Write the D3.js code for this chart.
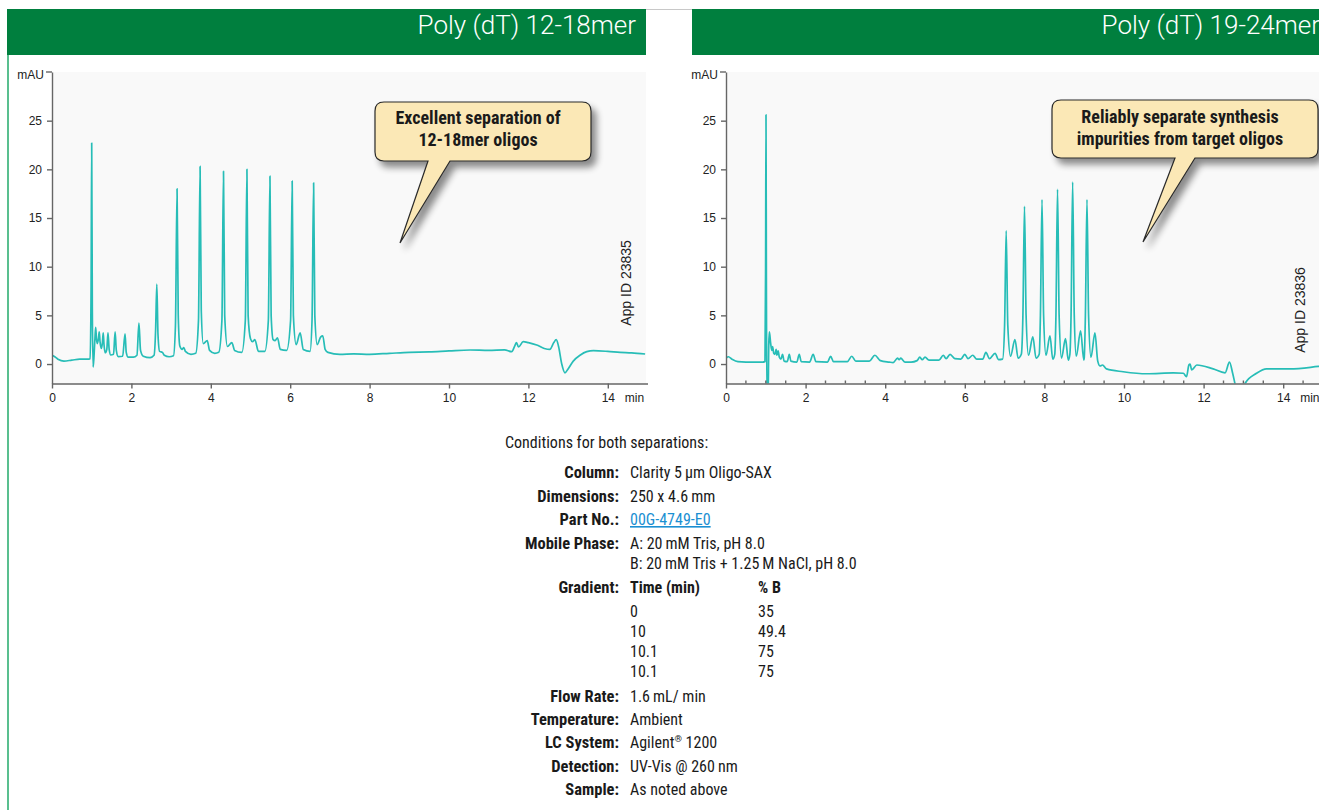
<!DOCTYPE html>
<html><head><meta charset="utf-8">
<script src="https://cdn.jsdelivr.net/npm/d3@7"></script>
<style>
html,body{margin:0;padding:0;background:#fff;}
svg{display:block;}
</style></head>
<body><svg id="c" width="1319" height="810"></svg>
<script>
// ---------------- DATA ----------------
const panelTitles = ["Poly (dT) 12-18mer", "Poly (dT) 19-24mer"];
const xTicks = [0, 2, 4, 6, 8, 10, 12, 14];
const yTicks = [0, 5, 10, 15, 20, 25];
const xUnit = "min";
const yUnit = "mAU";
const appIds = ["App ID 23835", "App ID 23836"];
const calloutLines = [
  ["Excellent separation of", "12-18mer oligos"],
  ["Reliably separate synthesis", "impurities from target oligos"]
];

// chromatogram 1 (time min, mAU)
const trace12to18 = [
 [0.00,0.9],[0.05,0.8],[0.15,0.5],[0.3,0.3],[0.5,0.4],[0.7,0.5],[0.9,0.5],[0.96,0.55],
 [0.985,8],[1.0,22.7],[1.015,6],[1.035,-0.3],[1.055,0.6],
 [1.08,2.5],[1.10,3.77],[1.12,2.6],[1.14,2.1],[1.17,2.6],[1.19,3.3],[1.21,2.3],[1.24,1.6],[1.27,2.2],[1.29,3.2],[1.31,2.0],[1.34,1.16],[1.38,1.5],[1.41,3.2],[1.44,1.5],[1.48,0.93],[1.55,1.0],[1.59,3.3],[1.62,1.4],[1.67,0.76],[1.78,0.8],[1.84,3.1],[1.87,1.2],[1.92,0.7],[2.05,0.7],[2.14,0.9],[2.19,4.2],[2.23,1.4],[2.3,0.8],[2.47,0.65],[2.57,0.9],[2.61,3.5],[2.64,8.2],[2.67,3.0],[2.71,1.3],[2.78,1.2],[2.83,0.9],[2.95,0.75],[3.06,0.85],[3.11,4],[3.15,18.0],[3.18,5],[3.22,1.85],[3.28,1.5],[3.32,1.7],[3.36,1.3],[3.5,1.0],[3.62,1.1],[3.69,4.5],[3.73,20.3],[3.76,5.5],[3.81,2.1],[3.91,2.4],[3.97,1.4],[4.1,1.1],[4.2,1.2],[4.28,4.5],[4.32,19.8],[4.35,5],[4.42,1.8],[4.53,2.2],[4.6,1.4],[4.78,1.2],[4.87,4.5],[4.91,20.0],[4.94,5],[5.0,2.6],[5.05,2.3],[5.11,2.5],[5.2,1.3],[5.36,1.3],[5.45,4.5],[5.49,19.3],[5.52,5],[5.57,2.5],[5.62,2.4],[5.68,2.7],[5.75,1.5],[5.91,1.4],[6.01,4.5],[6.05,18.8],[6.08,5],[6.15,2.0],[6.25,3.2],[6.33,1.5],[6.5,1.3],[6.55,4.5],[6.59,18.6],[6.62,5],[6.68,2.0],[6.77,2.8],[6.82,2.9],[6.88,1.5],[6.95,1.2],[7.25,1.0],[7.6,1.05],[8.0,1.0],[8.5,1.1],[9.0,1.2],[9.5,1.25],[10.0,1.35],[10.53,1.44],[11.0,1.4],[11.4,1.45],[11.58,1.27],[11.66,1.9],[11.70,2.2],[11.75,1.75],[11.87,2.3],[12.0,2.2],[12.21,1.95],[12.4,1.6],[12.54,1.5],[12.64,2.2],[12.70,2.5],[12.76,1.8],[12.84,0.0],[12.92,-0.9],[13.0,-0.5],[13.13,0.3],[13.3,0.9],[13.47,1.27],[13.64,1.37],[14.0,1.3],[14.31,1.2],[14.6,1.15],[14.94,1.03]
];

// chromatogram 2 (time min, mAU)
const trace19to24 = [
 [0.0,0.58],[0.06,0.75],[0.15,0.5],[0.3,0.24],[0.5,0.2],[0.7,0.2],[0.9,0.2],[0.98,0.25],[0.995,10],[1.005,25.6],[1.015,8],[1.03,-4],[1.055,-4],[1.075,2],[1.09,3.3],[1.12,2.2],[1.15,1.4],[1.17,1.8],[1.2,1.1],[1.23,1.0],[1.26,1.5],[1.28,0.9],[1.31,1.35],[1.34,0.7],[1.38,0.5],[1.42,1.0],[1.46,0.3],[1.54,0.25],[1.59,1.0],[1.63,0.3],[1.78,0.2],[1.84,1.0],[1.89,0.25],[2.1,0.2],[2.19,1.0],[2.26,0.25],[2.55,0.2],[2.63,0.8],[2.7,0.25],[3.05,0.25],[3.16,0.8],[3.26,0.3],[3.6,0.3],[3.74,0.9],[3.88,0.35],[4.1,0.2],[4.2,0.15],[4.31,0.6],[4.35,0.45],[4.39,0.6],[4.5,0.2],[4.65,0.2],[4.8,0.35],[4.87,0.7],[4.93,0.45],[5.0,0.7],[5.1,0.4],[5.35,0.4],[5.46,0.9],[5.53,0.55],[5.63,1.0],[5.75,0.55],[5.9,0.5],[6.0,1.0],[6.08,0.55],[6.2,0.9],[6.3,0.5],[6.45,0.5],[6.53,1.2],[6.62,0.55],[6.76,1.1],[6.85,0.45],[6.95,0.5],[7.0,4],[7.04,13.7],[7.08,4],[7.15,0.8],[7.26,2.5],[7.34,0.6],[7.42,1.0],[7.46,5],[7.50,16.2],[7.54,5],[7.6,0.9],[7.71,2.8],[7.79,0.6],[7.87,1.0],[7.90,5],[7.94,16.9],[7.98,5],[8.04,0.9],[8.14,2.9],[8.21,0.5],[8.26,1.0],[8.29,5],[8.33,17.95],[8.37,5],[8.43,0.6],[8.53,2.6],[8.6,0.4],[8.64,1.0],[8.67,5],[8.71,18.7],[8.75,5],[8.8,0.8],[8.91,3.4],[8.99,0.4],[9.0,0.6],[9.03,5],[9.07,16.9],[9.11,5],[9.17,0.7],[9.27,3.2],[9.34,0.3],[9.40,-0.2],[9.46,-0.1],[9.56,-0.5],[9.98,-0.79],[10.57,-1.0],[11.24,-0.9],[11.49,-0.95],[11.57,-1.3],[11.63,-0.1],[11.66,0.0],[11.70,-0.6],[11.83,-0.1],[12.24,-0.5],[12.54,-0.9],[12.65,0.2],[12.73,-0.95],[12.81,-2.4],[12.9,-3.5],[12.98,-2.6],[13.04,-2.0],[13.33,-0.95],[13.58,-0.5],[14.17,-0.5],[14.88,-0.25],[15.0,-0.2]
];

const conditionsHeading = "Conditions for both separations:";
const conditionLabels = ["Column:", "Dimensions:", "Part No.:", "Mobile Phase:", "", "Gradient:", "", "", "", "", "Flow Rate:", "Temperature:", "LC System:", "Detection:", "Sample:"];
const conditionValues = ["Clarity 5\u2009\u00b5m Oligo-SAX", "250 x 4.6\u2009mm", "00G-4749-E0", "A: 20\u2009mM Tris, pH 8.0", "B: 20\u2009mM Tris + 1.25\u2009M NaCl, pH 8.0", "Time (min)", "0", "10", "10.1", "10.1", "1.6\u2009mL/ min", "Ambient", "Agilent\u00ae 1200", "UV-Vis @ 260\u2009nm", "As noted above"];
const gradientPercentB = ["% B", "35", "49.4", "75", "75"];

// ---------------- LAYOUT ----------------
const GREEN = "#007f3e";
const TEAL = "#27bdb7";
const NARROW = "'Liberation Sans Narrow','Arial Narrow','Roboto Condensed','DejaVu Sans Condensed',sans-serif";
const SANS = "'Liberation Sans',Arial,Helvetica,sans-serif";
const yDomain = [-2, 30];
const yRange = [383.5, 72];
const panels = [
  {xr: [52, 647.5], bgRight: 646, header: [7, 646], titleX: 636,
   callout: {x0: 375, y0: 102, x1: 591, y1: 161, ta: 428, tb: 450, tx: 400, ty: 243, cx: 478, ty0: 124},
   appX: 631, appY: 283, minor: false, trace: trace12to18},
  {xr: [726, 1323], bgRight: 1319, header: [692, 1340], titleX: 1320,
   callout: {x0: 1052, y0: 100, x1: 1318, y1: 158, ta: 1175, tb: 1195, tx: 1143, ty: 242, cx: 1180, ty0: 123},
   appX: 1305, appY: 310, minor: true, trace: trace19to24}
];
const rowY = [478, 502, 525, 549, 569, 593, 617, 637, 657, 677, 702, 725, 748, 772, 795];

const svg = d3.select("#c");
const defs = svg.append("defs");
const f = defs.append("filter").attr("id", "shadow").attr("x", "-20%").attr("y", "-20%").attr("width", "150%").attr("height", "160%");
f.append("feGaussianBlur").attr("in", "SourceAlpha").attr("stdDeviation", 3.5).attr("result", "b");
f.append("feOffset").attr("in", "b").attr("dx", 5).attr("dy", 6).attr("result", "o");
f.append("feComponentTransfer").attr("in", "o").attr("result", "s")
  .append("feFuncA").attr("type", "linear").attr("slope", 0.45);
const m = f.append("feMerge");
m.append("feMergeNode").attr("in", "s");
m.append("feMergeNode").attr("in", "SourceGraphic");

// page frame
svg.append("line").attr("x1", 8).attr("x2", 8).attr("y1", 9).attr("y2", 810)
  .attr("stroke", "#22aa6a").attr("stroke-width", 1.5);
svg.append("line").attr("x1", 646).attr("x2", 692).attr("y1", 9.5).attr("y2", 9.5)
  .attr("stroke", "#c8c8c8").attr("stroke-width", 1);

panels.forEach((p, i) => {
  const g = svg.append("g");
  // header
  g.append("rect").attr("x", p.header[0]).attr("y", 9).attr("width", p.header[1] - p.header[0]).attr("height", 46).attr("fill", GREEN);
  g.append("text").attr("x", p.titleX).attr("y", 34).attr("text-anchor", "end")
    .attr("fill", "#fff").attr("font-family", "Roboto," + SANS).attr("font-weight", 300).attr("font-size", 26)
    .text(panelTitles[i]);

  const x = d3.scaleLinear().domain([0, 15]).range(p.xr);
  const y = d3.scaleLinear().domain(yDomain).range(yRange);

  // plot background
  g.append("rect").attr("x", p.xr[0]).attr("y", yRange[1]).attr("width", p.bgRight - p.xr[0]).attr("height", yRange[0] - yRange[1]).attr("fill", "#f9f9f9");

  // clip
  const cid = "clip" + i;
  defs.append("clipPath").attr("id", cid).append("rect")
    .attr("x", p.xr[0]).attr("y", yRange[1]).attr("width", p.bgRight - p.xr[0]).attr("height", yRange[0] - yRange[1]);

  // trace
  const line = d3.line().x(d => x(d[0])).y(d => y(d[1])).curve(d3.curveMonotoneX);
  g.append("path").datum(p.trace).attr("clip-path", `url(#${cid})`)
    .attr("d", line).attr("fill", "none").attr("stroke", TEAL).attr("stroke-width", 1.7).attr("stroke-linejoin", "round");

  // axes
  const ya = g.append("g").attr("transform", `translate(${p.xr[0]},0)`)
    .call(d3.axisLeft(y).tickValues(yTicks).tickSizeInner(5).tickSizeOuter(0).tickPadding(5));
  ya.append("line").attr("x1", -6).attr("x2", 0).attr("y1", y(yDomain[1])).attr("y2", y(yDomain[1]));
  const xa = g.append("g").attr("transform", `translate(0,${yRange[0]})`)
    .call(d3.axisBottom(x).tickValues(xTicks).tickSizeInner(5).tickSizeOuter(0).tickPadding(5));
  if (p.minor) {
    const minor = d3.range(0.5, 15, 0.5).filter(v => v % 2 !== 0);
    xa.selectAll("line.minor").data(minor).enter().append("line").attr("class", "minor")
      .attr("x1", d => x(d)).attr("x2", d => x(d)).attr("y1", 0).attr("y2", -3);
  }
  [ya, xa].forEach(a => {
    a.selectAll("path,line").attr("stroke", "#666").attr("stroke-width", 1.4);
    a.selectAll("text").attr("fill", "#222").attr("font-family", SANS).attr("font-size", 12);
  });
  g.append("text").attr("x", p.xr[0] - 8).attr("y", 79).attr("text-anchor", "end")
    .attr("font-family", SANS).attr("font-size", 12).attr("fill", "#222").text(yUnit);
  g.append("text").attr("x", x(14) + 17).attr("y", 402).attr("font-family", SANS).attr("font-size", 12).attr("fill", "#222").text(xUnit);

  // app id
  g.append("text").attr("transform", `translate(${p.appX},${p.appY}) rotate(-90)`).attr("text-anchor", "middle")
    .attr("font-family", SANS).attr("font-size", 14).attr("fill", "#222").text(appIds[i]);

  // callout
  const c = p.callout, r = 9;
  const path = `M${c.x0 + r},${c.y0} H${c.x1 - r} Q${c.x1},${c.y0} ${c.x1},${c.y0 + r} V${c.y1 - r} Q${c.x1},${c.y1} ${c.x1 - r},${c.y1} H${c.tb} L${c.tx},${c.ty} L${c.ta},${c.y1} H${c.x0 + r} Q${c.x0},${c.y1} ${c.x0},${c.y1 - r} V${c.y0 + r} Q${c.x0},${c.y0} ${c.x0 + r},${c.y0} Z`;
  g.append("path").attr("d", path).attr("fill", "#fbe8b6").attr("stroke", "#2a2a2a").attr("stroke-width", 1.2).attr("filter", "url(#shadow)");
  calloutLines[i].forEach((t, k) => {
    g.append("text").attr("x", c.cx).attr("y", c.ty0 + k * 22).attr("text-anchor", "middle")
      .attr("font-family", NARROW).attr("font-weight", "bold").attr("font-size", 18).attr("fill", "#1a1a1a").text(t);
  });
});

// conditions block
const cg = svg.append("g").attr("font-family", NARROW).attr("font-size", 16).attr("fill", "#1a1a1a");
cg.append("text").attr("x", 505).attr("y", 448).text(conditionsHeading);
conditionLabels.forEach((l, i) => {
  if (l) cg.append("text").attr("x", 619).attr("y", rowY[i]).attr("text-anchor", "end").attr("font-weight", "bold").attr("font-size", 16.5).text(l);
});
conditionValues.forEach((v, i) => {
  const t = cg.append("text").attr("x", 630).attr("y", rowY[i]);
  if (v === "00G-4749-E0") {
    t.attr("fill", "#1b8fd2").attr("text-decoration", "underline").text(v);
  } else if (v.indexOf("\u00ae") >= 0) {
    const parts = v.split("\u00ae");
    t.append("tspan").text(parts[0]);
    t.append("tspan").attr("font-size", 9.5).attr("dy", -6).text("\u00ae");
    t.append("tspan").attr("dy", 6).text(parts[1]);
  } else {
    t.text(v);
    if (v === "Time (min)") t.attr("font-weight", "bold");
  }
});
gradientPercentB.forEach((v, k) => {
  cg.append("text").attr("x", 758).attr("y", rowY[5 + k]).attr("font-weight", k === 0 ? "bold" : null).text(v);
});
</script></body></html>
